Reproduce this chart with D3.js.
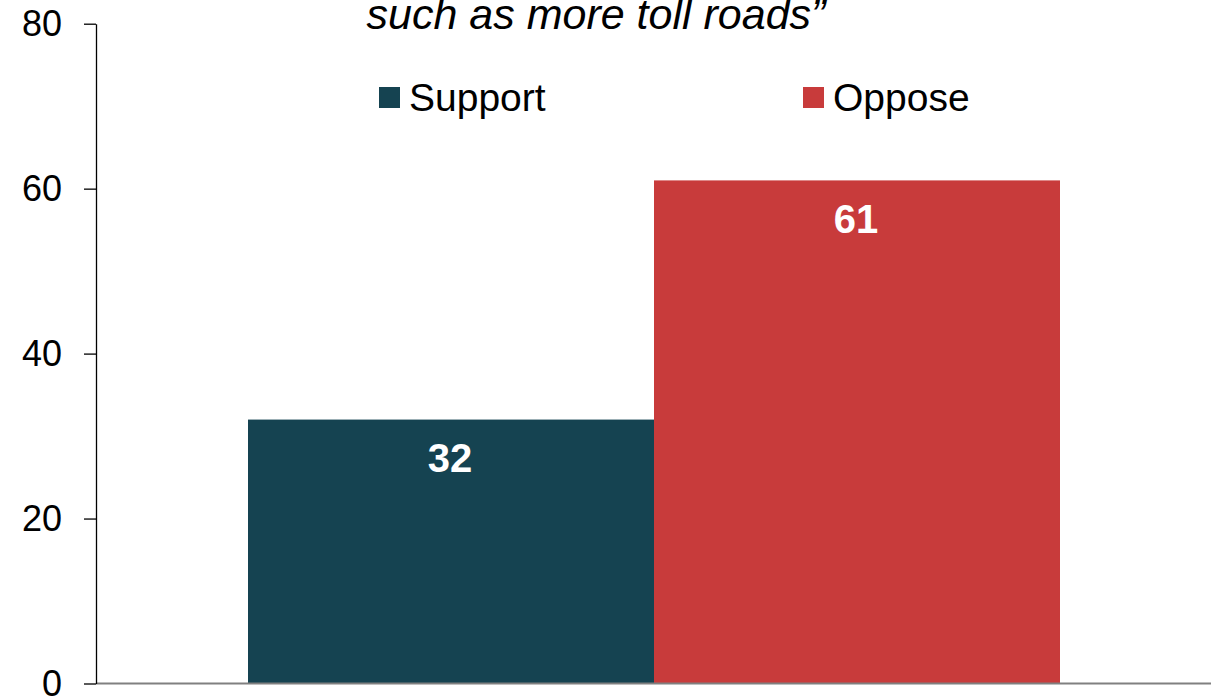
<!DOCTYPE html>
<html>
<head>
<meta charset="utf-8">
<script src="https://cdn.jsdelivr.net/npm/d3@7"></script>
<style>
  html, body { margin: 0; padding: 0; background: #fff; }
  svg { display: block; font-family: "Liberation Sans", Arial, Helvetica, sans-serif; }
</style>
</head>
<body>
<svg id="chart" width="1211" height="697"></svg>
<script>
// Survey result: support vs. oppose
const titleLine = "such as more toll roads\u201d";
const series = ["Support", "Oppose"];
const values = [32, 61];
const colors = ["#154351", "#C83B3B"];
const yTicks = [0, 20, 40, 60, 80];
const category = [""];

const W = 1211, H = 697;
const axisX = 96, axisRight = 1212;
const yBottom = 683.5, yTop = 23.7;

const svg = d3.select("#chart");

const y = d3.scaleLinear().domain([0, 80]).range([yBottom, yTop]);

const xCat = d3.scaleBand()
  .domain(category)
  .range([axisX, axisRight])
  .paddingInner(0)
  .paddingOuter(0.1872);

const xSeries = d3.scaleBand()
  .domain(series)
  .range([0, xCat.bandwidth()])
  .padding(0);

// bars
const bars = svg.append("g");
bars.selectAll("rect")
  .data(series.map((s, i) => ({ s, v: values[i], c: colors[i] })))
  .join("rect")
  .attr("x", d => xCat("") + xSeries(d.s))
  .attr("y", d => y(d.v))
  .attr("width", xSeries.bandwidth())
  .attr("height", d => y(0) - y(d.v))
  .attr("fill", d => d.c);

// value labels inside the bars
bars.selectAll("text")
  .data(series.map((s, i) => ({ s, v: values[i] })))
  .join("text")
  .attr("x", d => xCat("") + xSeries(d.s) + xSeries.bandwidth() / 2 - 1)
  .attr("y", d => y(d.v) + 52.5)
  .attr("text-anchor", "middle")
  .attr("fill", "#fff")
  .attr("font-weight", "bold")
  .attr("font-size", 40)
  .text(d => d.v);

// x baseline
svg.append("line")
  .attr("x1", axisX).attr("x2", W)
  .attr("y1", y(0)).attr("y2", y(0))
  .attr("stroke", "#808080")
  .attr("stroke-width", 2);

// y axis
const yAxis = d3.axisLeft(y)
  .tickValues(yTicks)
  .tickSize(12)
  .tickSizeOuter(0)
  .tickPadding(22)
  .tickFormat(d3.format("d"));

const gy = svg.append("g")
  .attr("transform", `translate(${axisX},0)`)
  .call(yAxis);
gy.select(".domain").attr("stroke", "#000").attr("stroke-width", 1.3);
gy.selectAll(".tick line").attr("stroke", "#000").attr("stroke-width", 1.3);
gy.selectAll(".tick text")
  .attr("fill", "#000")
  .attr("font-size", 36)
  .attr("font-family", "'Liberation Sans', Arial, sans-serif");

// title (last line)
svg.append("text")
  .attr("x", 596)
  .attr("y", 29)
  .attr("text-anchor", "middle")
  .attr("font-style", "italic")
  .attr("font-size", 43)
  .attr("fill", "#000")
  .text(titleLine);

// legend
const legendX = [379, 803];
const legend = svg.append("g");
series.forEach((s, i) => {
  legend.append("rect")
    .attr("x", legendX[i]).attr("y", 87)
    .attr("width", 21).attr("height", 21)
    .attr("fill", colors[i]);
  legend.append("text")
    .attr("x", legendX[i] + 30)
    .attr("y", 110.5)
    .attr("font-size", 39)
    .attr("fill", "#000")
    .text(s);
});
</script>
</body>
</html>
